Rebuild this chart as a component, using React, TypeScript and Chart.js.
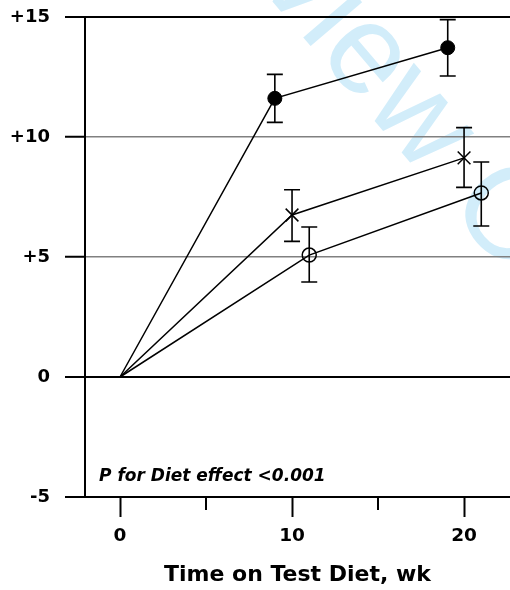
import React, { useEffect, useRef } from "react";
import { Chart, registerables } from "chart.js";

Chart.register(...registerables);

const FONT = "'DejaVu Sans', sans-serif";

// axis ticks
const xTicks = [0, 5, 10, 15, 20];
const xTickLabels = ["0", "", "10", "", "20"];
const xMajor = [0, 10, 20];
const yTicks = [-5, 0, 5, 10, 15];
const yTickLabels = ["-5", "0", "+5", "+10", "+15"];

// series: filled circles
const filledX = [0, 9, 19.05];
const filledY = [0, 11.61, 13.72];
const filledLow = [null, 10.61, 12.54];
const filledHigh = [null, 12.61, 14.89];

// series: crosses
const crossX = [0, 10, 20];
const crossY = [0, 6.75, 9.13];
const crossLow = [null, 5.65, 7.9];
const crossHigh = [null, 7.8, 10.39];

// series: open circles
const openX = [0, 11, 21];
const openY = [0, 5.08, 7.67];
const openLow = [null, 3.96, 6.29];
const openHigh = [null, 6.25, 8.96];

const pText = "P for Diet effect <0.001";
const pTextAt = { x: -1.22, y: -4.33 };
const xTitle = "Time on Test Diet, wk";
const watermark = "For Peer Review Only";
const watermarkPrefix = "For Peer ";

const toPts = (xs: number[], ys: number[]) => xs.map((x, i) => ({ x, y: ys[i] }));

const errorSets = [
  { xs: filledX, lo: filledLow, hi: filledHigh },
  { xs: crossX, lo: crossLow, hi: crossHigh },
  { xs: openX, lo: openLow, hi: openHigh },
];

const watermarkPlugin = {
  id: "watermark",
  beforeDraw(chart: any) {
    const ctx = chart.ctx;
    ctx.save();
    ctx.font = "128px 'Liberation Sans', Arial, sans-serif";
    ctx.fillStyle = "#d2edfa";
    ctx.textBaseline = "alphabetic";
    ctx.textAlign = "left";
    const off = ctx.measureText(watermarkPrefix).width;
    ctx.translate(150, -142);
    ctx.rotate((49.5 * Math.PI) / 180);
    ctx.fillText(watermark, -off, 0);
    ctx.restore();
  },
};

const errorBarPlugin = {
  id: "errorBars",
  beforeDatasetsDraw(chart: any) {
    const ctx = chart.ctx;
    const xs = chart.scales.x;
    const ys = chart.scales.y;
    ctx.save();
    ctx.strokeStyle = "#000";
    ctx.lineWidth = 1.6;
    const cap = 8;
    errorSets.forEach((s) => {
      s.xs.forEach((xv, i) => {
        const lo = s.lo[i];
        const hi = s.hi[i];
        if (lo == null || hi == null) return;
        const px = xs.getPixelForValue(xv);
        const pl = ys.getPixelForValue(lo);
        const ph = ys.getPixelForValue(hi);
        ctx.beginPath();
        ctx.moveTo(px, pl);
        ctx.lineTo(px, ph);
        ctx.moveTo(px - cap, pl);
        ctx.lineTo(px + cap, pl);
        ctx.moveTo(px - cap, ph);
        ctx.lineTo(px + cap, ph);
        ctx.stroke();
      });
    });
    ctx.restore();
  },
  afterDraw(chart: any) {
    const ctx = chart.ctx;
    const xs = chart.scales.x;
    const ys = chart.scales.y;
    ctx.save();
    // minor x tick marks
    ctx.strokeStyle = "#000";
    ctx.lineWidth = 2;
    xTicks.forEach((v) => {
      if (xMajor.includes(v)) return;
      const px = Math.round(xs.getPixelForValue(v));
      ctx.beginPath();
      ctx.moveTo(px, xs.top);
      ctx.lineTo(px, xs.top + 13);
      ctx.stroke();
    });
    // P text
    ctx.font = `italic bold 17px ${FONT}`;
    ctx.fillStyle = "#000";
    ctx.textAlign = "left";
    ctx.textBaseline = "alphabetic";
    ctx.fillText(pText, xs.getPixelForValue(pTextAt.x), ys.getPixelForValue(pTextAt.y));
    ctx.restore();
  },
};

export default function App() {
  const ref = useRef<HTMLCanvasElement>(null);
  useEffect(() => {
    const chart = new Chart(ref.current as HTMLCanvasElement, {
      type: "scatter",
      data: {
        datasets: [
          {
            label: "filled",
            data: toPts(filledX, filledY),
            showLine: true,
            borderColor: "#000",
            borderWidth: 1.5,
            pointStyle: "circle",
            pointRadius: [0, 7, 7],
            pointBackgroundColor: "#000",
            pointBorderColor: "#000",
            pointBorderWidth: 1,
          },
          {
            label: "cross",
            data: toPts(crossX, crossY),
            showLine: true,
            borderColor: "#000",
            borderWidth: 1.5,
            pointStyle: "crossRot",
            pointRadius: [0, 9, 9],
            pointBorderColor: "#000",
            pointBorderWidth: 1.5,
          },
          {
            label: "open",
            data: toPts(openX, openY),
            showLine: true,
            borderColor: "#000",
            borderWidth: 1.5,
            pointStyle: "circle",
            pointRadius: [0, 7, 7],
            pointBackgroundColor: "rgba(0,0,0,0)",
            pointBorderColor: "#000",
            pointBorderWidth: 1.5,
          },
        ],
      } as any,
      options: {
        animation: false,
        responsive: false,
        devicePixelRatio: 1,
        layout: { autoPadding: false, padding: { top: 17, left: 0, right: 0, bottom: 0 } },
        plugins: { legend: { display: false }, tooltip: { enabled: false } },
        scales: {
          x: {
            type: "linear",
            min: -2.035,
            max: 22.67,
            afterBuildTicks: (s: any) => {
              s.ticks = xTicks.map((v) => ({ value: v }));
            },
            afterFit: (s: any) => {
              s.height = 93;
              s.paddingLeft = 0;
              s.paddingRight = 0;
              s.paddingTop = 0;
              s.paddingBottom = 0;
            },
            ticks: {
              autoSkip: false,
              maxRotation: 0,
              padding: 8,
              color: "#000",
              font: { family: FONT, size: 18.5, weight: "bold" },
              callback: (_v: any, i: number) => xTickLabels[i],
            },
            grid: {
              drawOnChartArea: false,
              tickLength: 20,
              tickWidth: 2,
              tickColor: (c: any) => (c.tick && xMajor.includes(c.tick.value) ? "#000" : "rgba(0,0,0,0)"),
            },
            border: { display: true, color: "#000", width: 2 },
            title: {
              display: true,
              text: xTitle,
              color: "#000",
              font: { family: FONT, size: 22, weight: "bold" },
              padding: { top: 0, bottom: 2 },
            },
          },
          y: {
            type: "linear",
            min: -5,
            max: 15,
            afterBuildTicks: (s: any) => {
              s.ticks = yTicks.map((v) => ({ value: v }));
            },
            afterFit: (s: any) => {
              s.width = 85;
              s.paddingLeft = 0;
              s.paddingRight = 0;
              s.paddingTop = 0;
              s.paddingBottom = 0;
            },
            ticks: {
              padding: 15,
              color: "#000",
              font: { family: FONT, size: 18, weight: "bold" },
              callback: (_v: any, i: number) => yTickLabels[i],
            },
            grid: {
              tickLength: 20,
              tickWidth: 2,
              tickColor: "#000",
              color: (c: any) => (c.tick && (c.tick.value === 5 || c.tick.value === 10) ? "#808080" : "#000"),
              lineWidth: (c: any) => (c.tick && (c.tick.value === 5 || c.tick.value === 10) ? 1.5 : 2),
            },
            border: { display: true, color: "#000", width: 2 },
          },
        },
      } as any,
      plugins: [watermarkPlugin, errorBarPlugin],
    });
    return () => chart.destroy();
  }, []);
  return (
    <div style={{ position: "absolute", left: 0, top: 0, width: 510, height: 590, background: "#fff" }}>
      <canvas ref={ref} width={510} height={590} style={{ width: 510, height: 590, display: "block" }} />
    </div>
  );
}
